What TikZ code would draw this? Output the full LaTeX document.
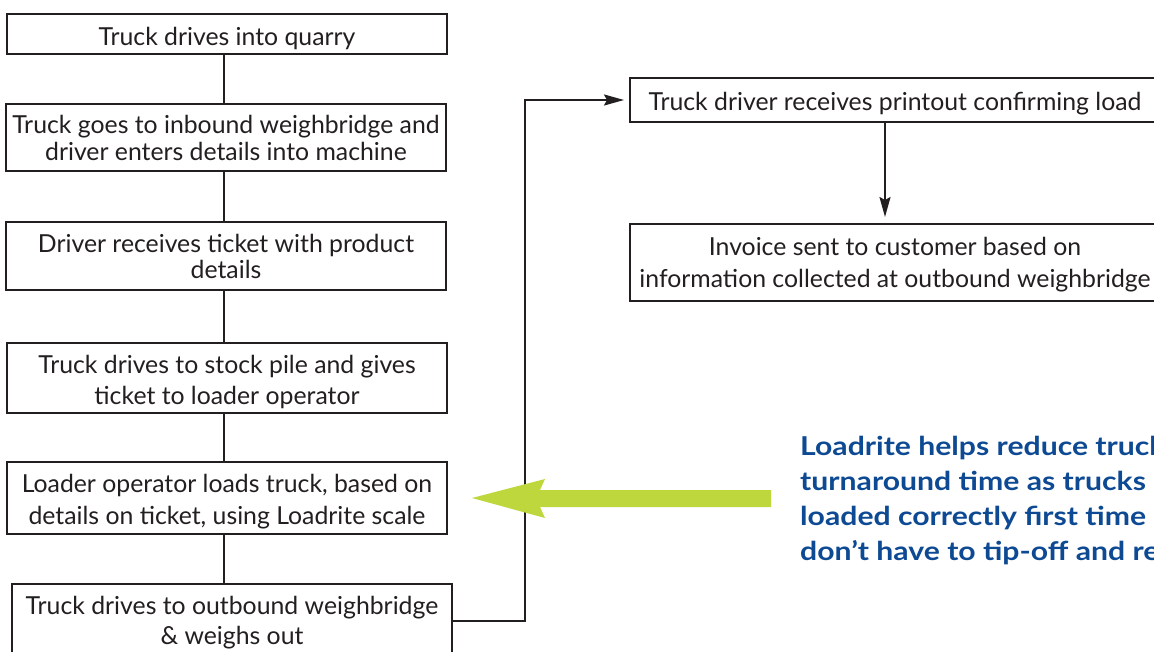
\documentclass[tikz,border=0pt]{standalone}
\usepackage{fontspec}
\setmainfont{Lato}
\newfontfamily\notefont[FakeStretch=1.16]{Lato}
\usetikzlibrary{arrows.meta}
\definecolor{ink}{HTML}{231F20}
\definecolor{lgreen}{HTML}{BED73D}
\definecolor{lblue}{HTML}{0D4A93}
\newcommand{\dn}[2]{\raisebox{-#1}[\height][\depth]{#2}}
\begin{document}
\begin{tikzpicture}[x=1pt,y=-1pt,
  box/.style={draw=ink, line width=2pt, minimum width=440pt, align=center, inner sep=0pt, text=ink, font=\fontsize{24.8}{27}\selectfont},
  wbox/.style={box, minimum width=530pt},
  link/.style={draw=ink, line width=2pt},
  arr/.style={link, -{Stealth[length=20pt,width=11pt,inset=3pt]}},
]
\useasboundingbox (0,0) rectangle (1154,651);
\fill[white] (0,0) rectangle (1154,651);
\begin{scope}
\clip (0,0) rectangle (1154,651);
\node[box, minimum height=40pt] (b1) at (227,34) {\dn{4pt}{Truck drives into quarry}};
\node[box, minimum height=67pt] (b2) at (226,137.5) {Truck goes to inbound weighbridge and\\driver enters details into machine};
\node[box, minimum height=68pt, font=\fontsize{24.8}{26}\selectfont] (b3) at (226,256) {Driver receives ticket with product\\details};
\node[box, minimum height=70pt, font=\fontsize{24.8}{31}\selectfont] (b4) at (227,378) {\dn{4pt}{Truck drives to stock pile and gives}\\\dn{4pt}{ticket to loader operator}};
\node[box, minimum height=72pt, font=\fontsize{24.8}{32}\selectfont] (b5) at (227,498) {\dn{4pt}{Loader operator loads truck, based on}\\\dn{4pt}{details on ticket, using Loadrite scale}};
\node[box, minimum height=74pt, font=\fontsize{24.8}{30}\selectfont] (b6) at (232,621) {\dn{2pt}{Truck drives to outbound weighbridge}\\\dn{2pt}{\& weighs out}};
\node[wbox, minimum height=44pt] (b7) at (895,100) {\dn{4pt}{Truck driver receives printout confirming load}};
\node[wbox, minimum height=77pt, font=\fontsize{24.8}{32}\selectfont] (b8) at (895,262.5) {\dn{2pt}{Invoice sent to customer based on}\\\dn{2pt}{information collected at outbound weighbridge}};

\draw[link] (b1.south -| 224,0) -- (b2.north -| 224,0);
\draw[link] (b2.south -| 224,0) -- (b3.north -| 224,0);
\draw[link] (b3.south -| 224,0) -- (b4.north -| 224,0);
\draw[link] (b4.south -| 224,0) -- (b5.north -| 224,0);
\draw[link] (b5.south -| 224,0) -- (b6.north -| 224,0);
\coordinate (turn) at (525,621);
\draw[arr, shorten >=5pt] (b6.east) -- (turn) |- (b7.west);
\draw[arr, shorten >=6pt] (b7.south -| 885,0) -- (b8.north -| 885,0);

\coordinate (tip) at (472,498);
\fill[lgreen] (tip) -- (545,479) -- (540,490) -- (771,490) -- (771,507) -- (540,507) -- (545,518) -- cycle;

\node[anchor=base west, align=left, inner sep=0pt, text=lblue, font=\notefont\bfseries\fontsize{26}{34.7}\selectfont] (note) at (800,560)
 {Loadrite helps reduce truck\\turnaround time as trucks are\\loaded correctly first time and\\don’t have to tip-off and reload};
\end{scope}
\end{tikzpicture}
\end{document}
